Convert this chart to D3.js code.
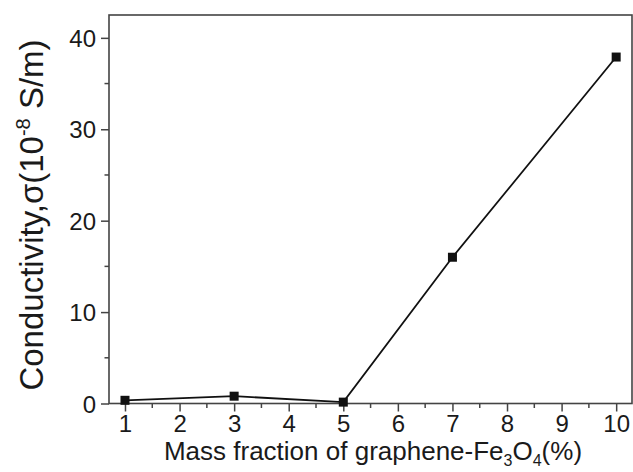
<!DOCTYPE html>
<html>
<head>
<meta charset="utf-8">
<script src="https://cdn.jsdelivr.net/npm/d3@7"></script>
<style>
body { margin: 0; background: #fff; }
text { font-family: "Liberation Sans", Arial, sans-serif; fill: #1a1a1a; }
</style>
</head>
<body>
<svg id="chart" width="633" height="472"></svg>
<script>
"use strict";

// data
var massFraction = [1, 3, 5, 7, 10];
var conductivity = [0.35, 0.8, 0.15, 16, 37.9];
var xTicks = [1, 2, 3, 4, 5, 6, 7, 8, 9, 10];
var yTicks = [0, 10, 20, 30, 40];

var svg = d3.select("#chart");
var plotLeft = 109, plotRight = 632, plotTop = 15, plotBottom = 403.5;

var x = d3.scaleLinear().domain([0.707, 10.29]).range([plotLeft, plotRight]);
var y = d3.scaleLinear().domain([0, 42.5]).range([plotBottom, plotTop]);

var axisColor = "#444";

// minor ticks
var xMinor = d3.range(1.5, 10.3, 1);
var yMinor = [5, 15, 25, 35];

svg.selectAll("line.xminor").data(xMinor).enter().append("line")
	.attr("x1", function(d) { return x(d); })
	.attr("x2", function(d) { return x(d); })
	.attr("y1", plotBottom).attr("y2", plotBottom + 4.5)
	.attr("stroke", axisColor).attr("stroke-width", 1.5);

svg.selectAll("line.yminor").data(yMinor).enter().append("line")
	.attr("y1", function(d) { return y(d); })
	.attr("y2", function(d) { return y(d); })
	.attr("x1", plotLeft).attr("x2", plotLeft - 4.5)
	.attr("stroke", axisColor).attr("stroke-width", 1.5);

// major axes
var xAxis = d3.axisBottom(x).tickValues(xTicks).tickSize(8).tickPadding(3).tickSizeOuter(0);
var yAxis = d3.axisLeft(y).tickValues(yTicks).tickSize(8).tickPadding(5).tickSizeOuter(0);

var gx = svg.append("g").attr("transform", "translate(0," + plotBottom + ")").call(xAxis);
var gy = svg.append("g").attr("transform", "translate(" + plotLeft + ",0)").call(yAxis);

[gx, gy].forEach(function(g) {
	g.select(".domain").remove();
	g.selectAll(".tick line").attr("stroke", axisColor).attr("stroke-width", 1.5);
	g.selectAll(".tick text")
		.style("font-family", "'Liberation Sans', Arial, sans-serif")
		.style("font-size", "24px")
		.attr("fill", "#1a1a1a");
});
gy.selectAll(".tick text").attr("dy", "0.36em");

// frame
svg.append("rect")
	.attr("x", plotLeft).attr("y", plotTop)
	.attr("width", plotRight - plotLeft).attr("height", plotBottom - plotTop)
	.attr("fill", "none").attr("stroke", axisColor).attr("stroke-width", 1.6);

// series
var pts = massFraction.map(function(d, i) { return [d, conductivity[i]]; });

svg.append("path")
	.datum(pts)
	.attr("fill", "none").attr("stroke", "#111").attr("stroke-width", 1.8)
	.attr("d", d3.line().x(function(d) { return x(d[0]); }).y(function(d) { return y(d[1]); }));

svg.selectAll("rect.pt").data(pts).enter().append("rect")
	.attr("x", function(d) { return x(d[0]) - 4.5; })
	.attr("y", function(d) { return y(d[1]) - 4.5; })
	.attr("width", 9).attr("height", 9)
	.attr("fill", "#111");

// x title
var xt = svg.append("text")
	.attr("x", 373).attr("y", 460)
	.attr("text-anchor", "middle")
	.style("font-size", "26px");
xt.append("tspan").text("Mass fraction of graphene-Fe");
xt.append("tspan").text("3").style("font-size", "16px").attr("dy", 6);
xt.append("tspan").text("O").attr("dy", -6);
xt.append("tspan").text("4").style("font-size", "16px").attr("dy", 6);
xt.append("tspan").text("(%)").attr("dy", -6);

// y title
var yt = svg.append("text")
	.attr("transform", "translate(43,215) rotate(-90)")
	.attr("text-anchor", "middle")
	.style("font-size", "33px");
yt.append("tspan").text("Conductivity,\u03c3(10");
yt.append("tspan").text("-8").style("font-size", "20px").attr("dy", -13);
yt.append("tspan").text(" S/m)").attr("dy", 13);
</script>
</body>
</html>
